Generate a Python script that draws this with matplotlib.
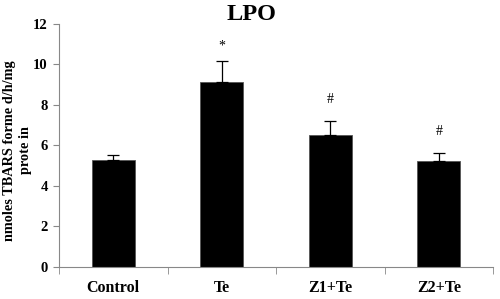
import matplotlib.pyplot as plt
import numpy as np

# LPO levels per group
groups = ['Control', 'Te', 'Z1+Te', 'Z2+Te']
means = [5.28, 9.14, 6.53, 5.23]
errors = [0.25, 1.03, 0.67, 0.40]
marks = ['', '*', '#', '#']
mark_y = [0, 10.9, 8.25, 6.7]

plt.rcParams['font.family'] = ['Liberation Serif', 'DejaVu Serif']

fig = plt.figure(figsize=(5, 2.99), dpi=100)
ax = fig.add_axes([0.118, 0.107, 0.868, 0.813])

x = np.arange(len(groups))
ax.bar(x, means, width=0.4, color='black', edgecolor='#555555', linewidth=0.6, zorder=2)
ax.errorbar(x, means, yerr=[np.zeros(len(errors)), errors], fmt='none',
            ecolor='black', elinewidth=0.9, capsize=4, capthick=0.9, zorder=3)

for xi, m, y in zip(x, marks, mark_y):
    if m:
        ax.text(xi, y, m, ha='center', va='center', fontsize=10)

ax.set_xlim(-0.5, 3.5)
ax.set_ylim(0, 12)
ax.set_yticks(range(0, 13, 2))
ax.set_xticks(x)
ax.set_xticklabels(groups, fontweight='bold', fontsize=11.5)
ax.tick_params(axis='x', length=0, pad=9)
ax.set_xticks(np.arange(-0.5, 4, 1), minor=True)
ax.tick_params(axis='x', which='minor', length=5, color='#888888', direction='out')
ax.tick_params(axis='y', length=4, color='#888888', labelsize=10.5, pad=4)
for lbl in ax.get_yticklabels():
    lbl.set_fontweight('bold')

for s in ['top', 'right']:
    ax.spines[s].set_visible(False)
for s in ['left', 'bottom']:
    ax.spines[s].set_color('#888888')
    ax.spines[s].set_linewidth(0.8)

ax.set_ylabel('nmoles TBARS forme d/h/mg\nprote in', fontweight='bold', fontsize=10.3,
              linespacing=1.3)
ax.yaxis.set_label_coords(-0.063, 0.48)
fig.text(0.503, 0.95, 'LPO', ha='center', va='center', fontweight='bold', fontsize=17.5)

fig.savefig('out.png', dpi=100)
